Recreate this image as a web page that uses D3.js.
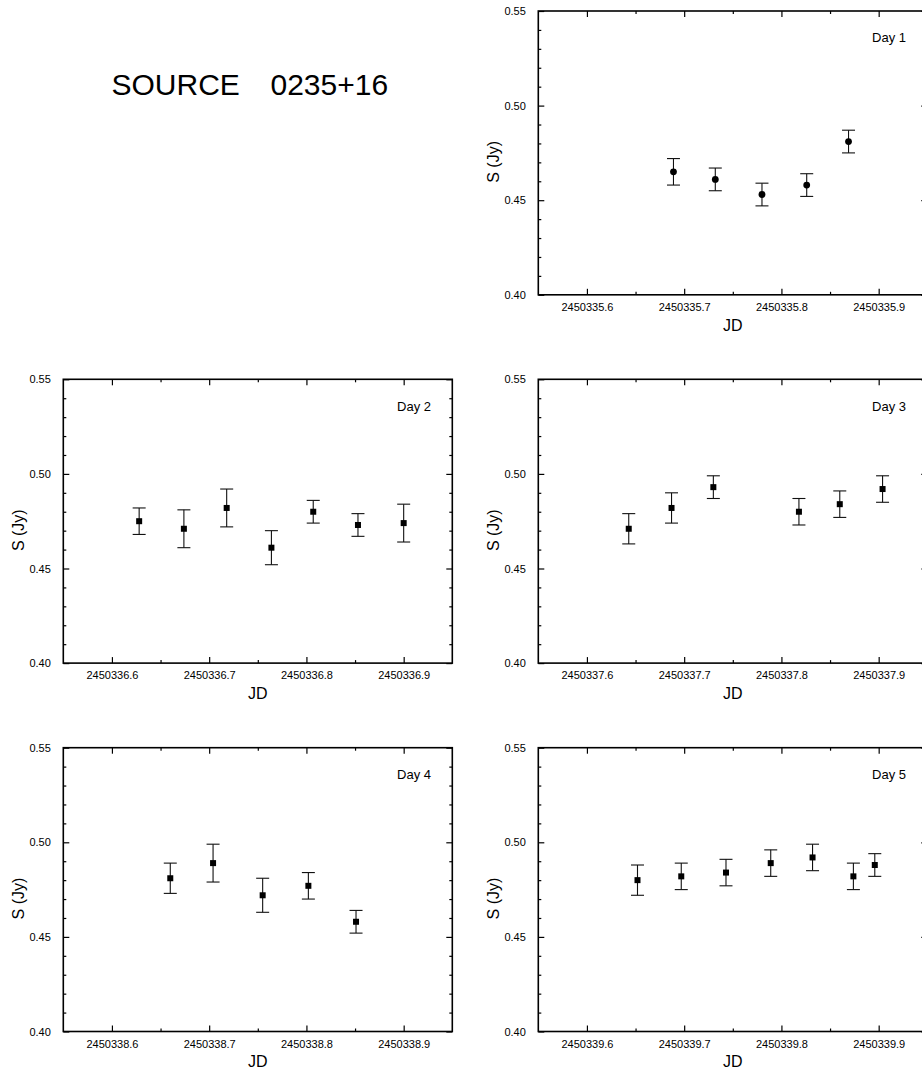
<!DOCTYPE html>
<html>
<head>
<meta charset="utf-8">
<script src="https://d3js.org/d3.v7.min.js"></script>
<style>
  html, body { margin: 0; padding: 0; background: #fff; }
  svg { display: block; font-family: "Liberation Sans", Arial, sans-serif; }
</style>
</head>
<body>
<svg id="chart" width="922" height="1072"></svg>
<script>
// Daily flux-density monitoring of 0235+16: JD, flux (Jy) and 1-sigma errors
const dayLabels = ["Day 1", "Day 2", "Day 3", "Day 4", "Day 5"];
const dayStart = [2450335, 2450336, 2450337, 2450338, 2450339];

const day1JD  = [2450335.689, 2450335.732, 2450335.780, 2450335.826, 2450335.869];
const day1S   = [0.465, 0.461, 0.453, 0.458, 0.481];
const day1Err = [0.007, 0.006, 0.006, 0.006, 0.006];

const day2JD  = [2450336.628, 2450336.674, 2450336.718, 2450336.764, 2450336.807, 2450336.853, 2450336.900];
const day2S   = [0.475, 0.471, 0.482, 0.461, 0.480, 0.473, 0.474];
const day2Err = [0.007, 0.010, 0.010, 0.009, 0.006, 0.006, 0.010];

const day3JD  = [2450337.643, 2450337.687, 2450337.730, 2450337.818, 2450337.860, 2450337.904];
const day3S   = [0.471, 0.482, 0.493, 0.480, 0.484, 0.492];
const day3Err = [0.008, 0.008, 0.006, 0.007, 0.007, 0.007];

const day4JD  = [2450338.660, 2450338.704, 2450338.755, 2450338.802, 2450338.851];
const day4S   = [0.481, 0.489, 0.472, 0.477, 0.458];
const day4Err = [0.008, 0.010, 0.009, 0.007, 0.006];

const day5JD  = [2450339.652, 2450339.697, 2450339.743, 2450339.789, 2450339.832, 2450339.874, 2450339.896];
const day5S   = [0.480, 0.482, 0.484, 0.489, 0.492, 0.482, 0.488];
const day5Err = [0.008, 0.007, 0.007, 0.007, 0.007, 0.007, 0.006];

const yMajorTicks = [0.40, 0.45, 0.50, 0.55];
const yDomain = [0.40, 0.55];
const xTickOffsets = [0.6, 0.7, 0.8, 0.9];   // labelled ticks within each day
const xDomainOffsets = [0.55, 0.95];

const days = [
  { jd: day1JD, s: day1S, err: day1Err, symbol: "circle" },
  { jd: day2JD, s: day2S, err: day2Err, symbol: "square" },
  { jd: day3JD, s: day3S, err: day3Err, symbol: "square" },
  { jd: day4JD, s: day4S, err: day4Err, symbol: "square" },
  { jd: day5JD, s: day5S, err: day5Err, symbol: "square" }
];

// panel frames (left, top) for each day
const panelW = 389, panelH = 283.8;
const panelPos = [
  [538.3, 11], [63.3, 379.3], [538.3, 379.3], [63.3, 747.7], [538.3, 747.7]
];

const svg = d3.select("#chart");

svg.append("text")
  .attr("x", 111.5).attr("y", 95)
  .attr("font-size", 30).attr("fill", "#000")
  .call(t => {
    t.append("tspan").text("SOURCE");
    t.append("tspan").attr("x", 270.5).text("0235+16");
  });

days.forEach((d, i) => {
  const [px, py] = panelPos[i];
  const base = dayStart[i];
  const x = d3.scaleLinear().domain(xDomainOffsets.map(o => base + o)).range([0, panelW]);
  const y = d3.scaleLinear().domain(yDomain).range([panelH, 0]);
  const g = svg.append("g").attr("transform", `translate(${px},${py})`);

  const xMajor = xTickOffsets.map(o => base + o);
  const xMinor = d3.range(0.65, 0.95, 0.1).map(o => base + o);
  const yMinor = d3.range(0.41, 0.55, 0.01).filter(v => !yMajorTicks.some(m => Math.abs(m - v) < 1e-6));

  const tickStyle = sel => {
    sel.select(".domain").remove();
    sel.selectAll("line").attr("stroke", "#000").attr("stroke-width", 1.2);
    sel.selectAll("text").attr("fill", "#000").attr("font-family", "inherit");
  };

  // bottom axis (ticks pointing inward)
  g.append("g").attr("transform", `translate(0,${panelH})`)
    .call(d3.axisBottom(x).tickValues(xMajor).tickSizeInner(-6).tickSizeOuter(0)
      .tickPadding(10).tickFormat(d3.format(".1f")))
    .call(tickStyle)
    .call(a => a.selectAll("text").attr("font-size", 11).attr("dy", "0.71em").attr("y", 8.2));
  g.append("g").attr("transform", `translate(0,${panelH})`)
    .call(d3.axisBottom(x).tickValues(xMinor).tickSizeInner(-3).tickSizeOuter(0).tickFormat(""))
    .call(tickStyle);
  // top axis
  g.append("g")
    .call(d3.axisTop(x).tickValues(xMajor).tickSizeInner(-6).tickSizeOuter(0).tickFormat(""))
    .call(tickStyle);
  g.append("g")
    .call(d3.axisTop(x).tickValues(xMinor).tickSizeInner(-3).tickSizeOuter(0).tickFormat(""))
    .call(tickStyle);
  // left axis
  g.append("g")
    .call(d3.axisLeft(y).tickValues(yMajorTicks).tickSizeInner(-6).tickSizeOuter(0)
      .tickPadding(12.5).tickFormat(d3.format(".2f")))
    .call(tickStyle)
    .call(a => a.selectAll("text").attr("font-size", 11));
  g.append("g")
    .call(d3.axisLeft(y).tickValues(yMinor).tickSizeInner(-3).tickSizeOuter(0).tickFormat(""))
    .call(tickStyle);
  // right axis
  g.append("g").attr("transform", `translate(${panelW},0)`)
    .call(d3.axisRight(y).tickValues(yMajorTicks).tickSizeInner(-6).tickSizeOuter(0).tickFormat(""))
    .call(tickStyle);
  g.append("g").attr("transform", `translate(${panelW},0)`)
    .call(d3.axisRight(y).tickValues(yMinor).tickSizeInner(-3).tickSizeOuter(0).tickFormat(""))
    .call(tickStyle);

  // frame
  g.append("rect").attr("x", 0).attr("y", 0).attr("width", panelW).attr("height", panelH)
    .attr("fill", "none").attr("stroke", "#000").attr("stroke-width", 1.6);

  // axis titles
  g.append("text").attr("x", panelW / 2).attr("y", panelH + 36)
    .attr("text-anchor", "middle").attr("font-size", 16).attr("fill", "#000").text("JD");
  g.append("text")
    .attr("transform", `translate(-39.5,${panelH / 2 + 9}) rotate(-90)`)
    .attr("text-anchor", "middle").attr("font-size", 16).attr("fill", "#000").text("S (Jy)");

  // day label
  g.append("text").attr("x", 333.8).attr("y", 31.3)
    .attr("font-size", 13).attr("fill", "#000").text(dayLabels[i]);

  // error bars
  const pts = d.jd.map((t, k) => ({ t, s: d.s[k], e: d.err[k] }));
  const cap = 6.5;
  const eb = g.append("g").attr("stroke", "#111").attr("stroke-width", 1.1);
  pts.forEach(p => {
    const cx = x(p.t), y0 = y(p.s - p.e), y1 = y(p.s + p.e);
    eb.append("line").attr("x1", cx).attr("x2", cx).attr("y1", y0).attr("y2", y1);
    eb.append("line").attr("x1", cx - cap).attr("x2", cx + cap).attr("y1", y0).attr("y2", y0);
    eb.append("line").attr("x1", cx - cap).attr("x2", cx + cap).attr("y1", y1).attr("y2", y1);
  });

  // markers
  if (d.symbol === "circle") {
    g.append("g").selectAll("circle").data(pts).join("circle")
      .attr("cx", p => x(p.t)).attr("cy", p => y(p.s)).attr("r", 3.4).attr("fill", "#000");
  } else {
    const sz = 6;
    g.append("g").selectAll("rect").data(pts).join("rect")
      .attr("x", p => x(p.t) - sz / 2).attr("y", p => y(p.s) - sz / 2)
      .attr("width", sz).attr("height", sz).attr("fill", "#000");
  }
});
</script>
</body>
</html>
